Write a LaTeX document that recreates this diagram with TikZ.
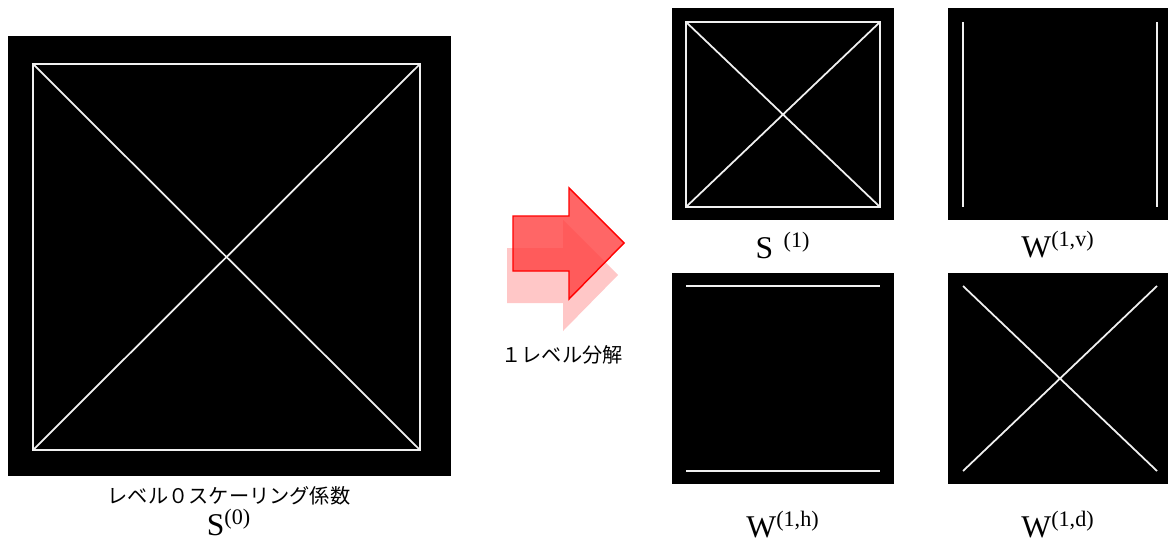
\documentclass[tikz,border=0pt]{standalone}
\usepackage{fontspec}
\setmainfont{Liberation Serif}
\newfontfamily\jpfont{Noto Sans CJK JP}
\usetikzlibrary{positioning}
\tikzset{
  wline/.style={draw=white!94!black, line width=1pt},
  jp/.style={font=\jpfont\fontsize{11.5}{13}\selectfont, inner sep=1pt},
  coef/.style={font=\fontsize{18}{20}\selectfont, inner sep=1pt},
  fwdarrow/.style={draw=red, line width=0.8pt, fill=red!75!white, fill opacity=0.8},
  shadowarrow/.style={fill=red!22!white},
}
\begin{document}
\begin{tikzpicture}[x=0.02cm, y=-0.02cm]
	\useasboundingbox (0,0) rectangle (1168,547);
	% --- 左図：レベル0 ---
	\fill[black] (8,36) rectangle (451,476);
	\draw[wline] (33,64) rectangle (420,450);
	\draw[wline] (33,64) -- (420,450) (33,450) -- (420,64);
	\node[jp] (s0txt) at (229,496) {レベル０スケーリング係数};
	\node[coef, below=0pt of s0txt] (s0lbl) {S\textsuperscript{(0)}};
	
	% --- 中央：分解の矢印 ---
	\begin{scope}[shift={(-6,32)}]
		\fill[shadowarrow] (513,216) -- (569,216) -- (569,188) -- (624,243)
			-- (569,299) -- (569,271) -- (513,271) -- cycle;
	\end{scope}
	\filldraw[fwdarrow] (513,216) -- (569,216) -- (569,188) -- (624,243)
		-- (569,299) -- (569,271) -- (513,271) -- cycle;
	\node[jp] (dectxt) at (562,355) {１レベル分解};
	
	% --- 右図：S(1) ---
	\fill[black] (672,8) rectangle (894,220);
	\draw[wline] (686,22) rectangle (880,207);
	\draw[wline] (686,22) -- (880,207) (686,207) -- (880,22);
	\node[coef] (s1lbl) at (783,245) {S\,\,\textsuperscript{(1)}};
	
	% --- 右図：W(1,v) ---
	\fill[black] (948,8) rectangle (1168,220);
	\draw[wline] (963,22) -- (963,207) (1157,22) -- (1157,207);
	\node[coef] (wvlbl) at (1058,245) {W\textsuperscript{(1,v)}};
	
	% --- 右図：W(1,h) ---
	\fill[black] (672,273) rectangle (894,484);
	\draw[wline] (686,286) -- (880,286) (686,471) -- (880,471);
	\node[coef] (whlbl) at (783,525) {W\textsuperscript{(1,h)}};
	
	% --- 右図：W(1,d) ---
	\fill[black] (948,273) rectangle (1168,484);
	\draw[wline] (963,286) -- (1157,471) (963,471) -- (1157,286);
	\node[coef] (wdlbl) at (1058,525) {W\textsuperscript{(1,d)}};
\end{tikzpicture}
\end{document}
